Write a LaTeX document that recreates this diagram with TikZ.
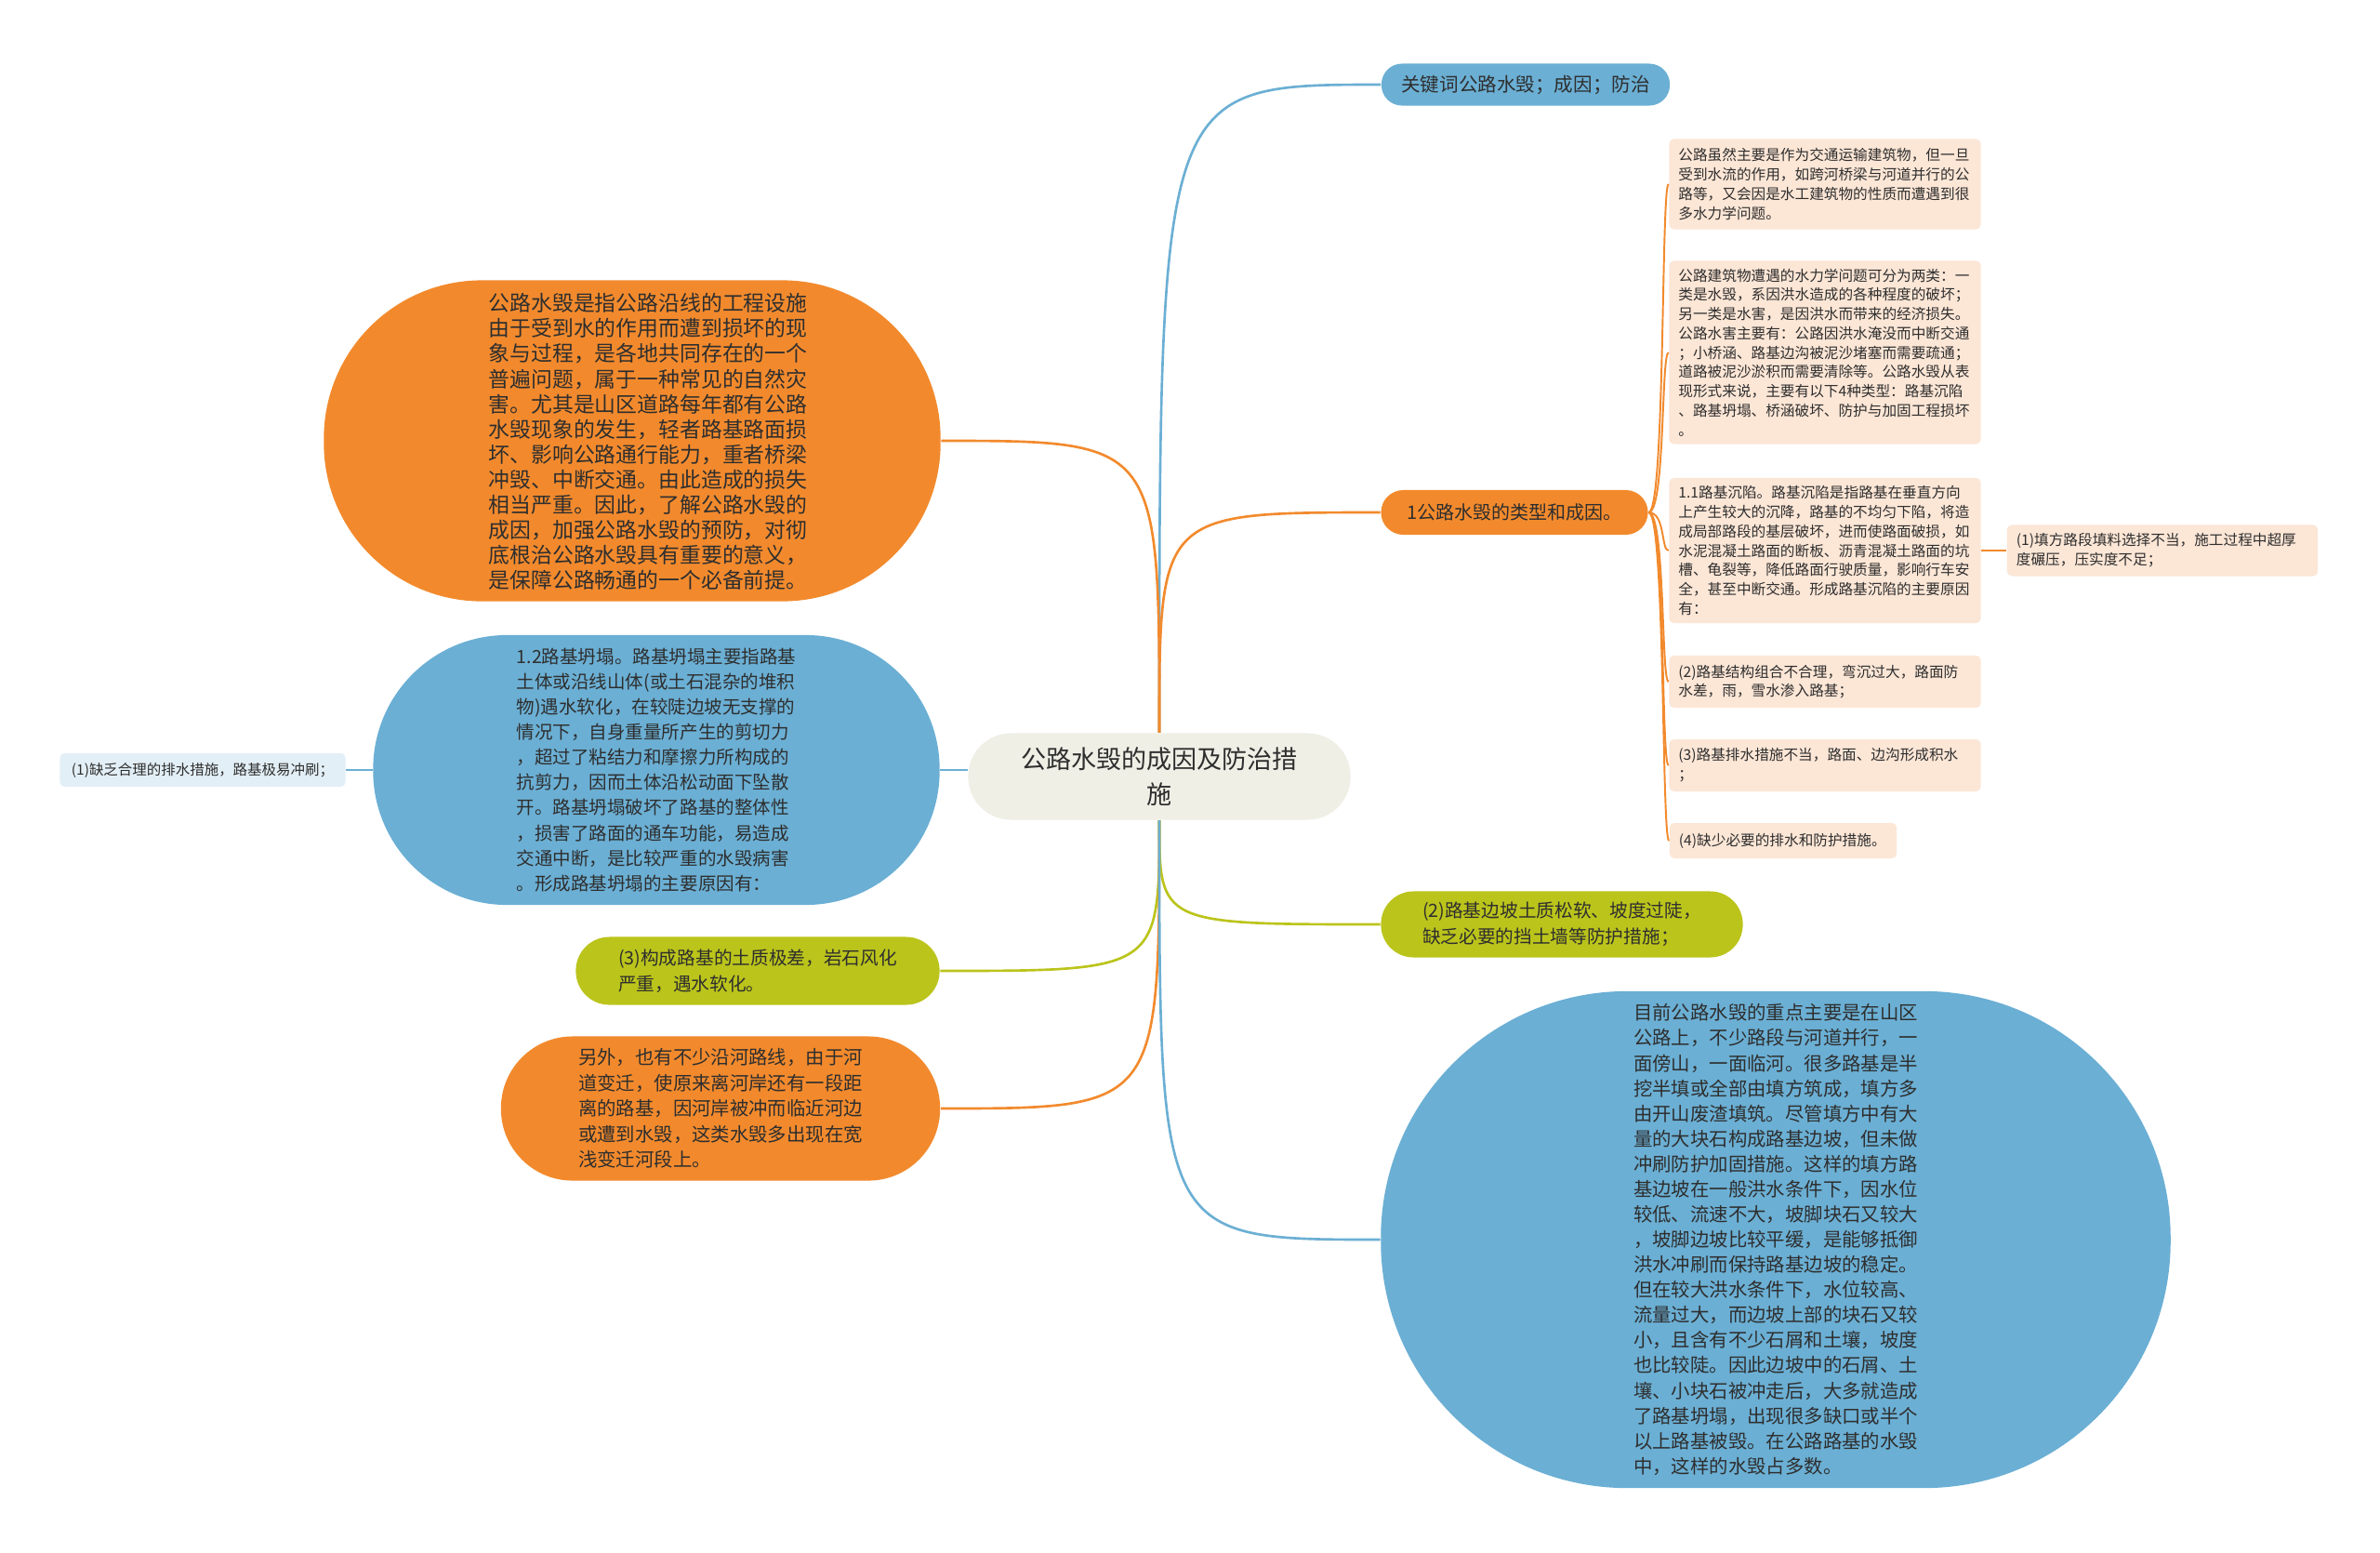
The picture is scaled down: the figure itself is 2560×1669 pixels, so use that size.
\documentclass[tikz,border=0pt]{standalone}
\usepackage{fontspec}
\setmainfont{Noto Sans CJK SC}
\usepackage{xcolor}
\definecolor{mmorange}{HTML}{F28A2D}
\definecolor{mmblue}{HTML}{6BAFD4}
\definecolor{mmgreen}{HTML}{BBC41B}
\definecolor{mmcentre}{HTML}{EFEFE6}
\definecolor{mmpeach}{HTML}{FCE6D6}
\definecolor{mmpale}{HTML}{E3EFF6}
\definecolor{mmtext}{HTML}{2E2E2E}

\tikzset{
  bubble/.style={rectangle, inner sep=0pt, align=left, text=mmtext},
  note/.style={rectangle, rounded corners=0.05cm, fill=mmpeach, inner xsep=0.1cm, inner ysep=0pt,
    align=left, text width=3.15cm, text=mmtext, font=\fontsize{4.45pt}{5.9pt}\selectfont},
  link/.style={line width=0.75pt},
  notelink/.style={draw=mmorange, line width=0.55pt}
}

\begin{document}
\begin{tikzpicture}[x=0.01cm, y=-0.01cm]
  \fill[white] (0,0) rectangle (2560,1669);
  \useasboundingbox (0,0) rectangle (2560,1669);

  % centre
  \node[bubble, fill=mmcentre, minimum width=4.11cm, minimum height=0.93cm, rounded corners=0.46cm,
    align=center, font=\fontsize{7.7pt}{10.7pt}\selectfont] (root) at (1247,835) {公路水毁的成因及防治措\\施};

  % right side
  \node[bubble, fill=mmblue, minimum width=3.10cm, minimum height=0.45cm, rounded corners=0.22cm,
    font=\fontsize{5.85pt}{7pt}\selectfont] (keys) at (1641,91) {关键词公路水毁；成因；防治};
  \node[bubble, fill=mmorange, minimum width=2.87cm, minimum height=0.48cm, rounded corners=0.24cm,
    font=\fontsize{5.7pt}{7pt}\selectfont] (kinds) at (1629,551) {1公路水毁的类型和成因。};

  \node[note, minimum height=0.97cm] (why) at (1963,198) {公路虽然主要是作为交通运输建筑物，但一旦\\受到水流的作用，如跨河桥梁与河道并行的公\\路等，又会因是水工建筑物的性质而遭遇到很\\多水力学问题。};
  \node[note, minimum height=1.97cm] (classes) at (1963,379) {公路建筑物遭遇的水力学问题可分为两类：一\\类是水毁，系因洪水造成的各种程度的破坏；\\另一类是水害，是因洪水而带来的经济损失。\\公路水害主要有：公路因洪水淹没而中断交通\\；小桥涵、路基边沟被泥沙堵塞而需要疏通；\\道路被泥沙淤积而需要清除等。公路水毁从表\\现形式来说，主要有以下4种类型：路基沉陷\\、路基坍塌、桥涵破坏、防护与加固工程损坏\\。};
  \node[note, minimum height=1.56cm] (sink) at (1963,592) {1.1路基沉陷。路基沉陷是指路基在垂直方向\\上产生较大的沉降，路基的不均匀下陷，将造\\成局部路段的基层破坏，进而使路面破损，如\\水泥混凝土路面的断板、沥青混凝土路面的坑\\槽、龟裂等，降低路面行驶质量，影响行车安\\全，甚至中断交通。形成路基沉陷的主要原因\\有：};
  \node[note, text width=3.14cm, minimum height=0.55cm] (sinkA) at (2326,592) {(1)填方路段填料选择不当，施工过程中超厚\\度碾压，压实度不足；};
  \node[note, minimum height=0.56cm] (sinkB) at (1963,733) {(2)路基结构组合不合理，弯沉过大，路面防\\水差，雨，雪水渗入路基；};
  \node[note, minimum height=0.56cm] (sinkC) at (1963,823) {(3)路基排水措施不当，路面、边沟形成积水\\；};
  \node[note, text width=2.24cm, minimum height=0.38cm] (sinkD) at (1918,904) {(4)缺少必要的排水和防护措施。};

  \node[bubble, fill=mmgreen, minimum width=3.89cm, minimum height=0.71cm, rounded corners=0.35cm,
    font=\fontsize{5.6pt}{8pt}\selectfont] (slope) at (1680,994) {(2)路基边坡土质松软、坡度过陡，\\缺乏必要的挡土墙等防护措施；};
  \node[bubble, fill=mmblue, minimum width=8.49cm, minimum height=5.34cm, rounded corners=2.65cm,
    font=\fontsize{5.8pt}{7.7pt}\selectfont] (mountain) at (1910,1333) {目前公路水毁的重点主要是在山区\\公路上，不少路段与河道并行，一\\面傍山，一面临河。很多路基是半\\挖半填或全部由填方筑成，填方多\\由开山废渣填筑。尽管填方中有大\\量的大块石构成路基边坡，但未做\\冲刷防护加固措施。这样的填方路\\基边坡在一般洪水条件下，因水位\\较低、流速不大，坡脚块石又较大\\，坡脚边坡比较平缓，是能够抵御\\洪水冲刷而保持路基边坡的稳定。\\但在较大洪水条件下，水位较高、\\流量过大，而边坡上部的块石又较\\小，且含有不少石屑和土壤，坡度\\也比较陡。因此边坡中的石屑、土\\壤、小块石被冲走后，大多就造成\\了路基坍塌，出现很多缺口或半个\\以上路基被毁。在公路路基的水毁\\中，这样的水毁占多数。};

  % left side
  \node[bubble, fill=mmorange, minimum width=6.63cm, minimum height=3.45cm, rounded corners=1.7cm] (define) at (680,474) {};
  \node[bubble, font=\fontsize{6.5pt}{7.7pt}\selectfont] (definetext) at (697,475) {公路水毁是指公路沿线的工程设施\\由于受到水的作用而遭到损坏的现\\象与过程，是各地共同存在的一个\\普遍问题，属于一种常见的自然灾\\害。尤其是山区道路每年都有公路\\水毁现象的发生，轻者路基路面损\\坏、影响公路通行能力，重者桥梁\\冲毁、中断交通。由此造成的损失\\相当严重。因此，了解公路水毁的\\成因，加强公路水毁的预防，对彻\\底根治公路水毁具有重要的意义，\\是保障公路畅通的一个必备前提。};
  \node[bubble, fill=mmblue, minimum width=6.09cm, minimum height=2.90cm, rounded corners=1.44cm,
    font=\fontsize{5.55pt}{7.7pt}\selectfont] (slump) at (706,828) {1.2路基坍塌。路基坍塌主要指路基\\土体或沿线山体(或土石混杂的堆积\\物)遇水软化，在较陡边坡无支撑的\\情况下，自身重量所产生的剪切力\\，超过了粘结力和摩擦力所构成的\\抗剪力，因而土体沿松动面下坠散\\开。路基坍塌破坏了路基的整体性\\，损害了路面的通车功能，易造成\\交通中断，是比较严重的水毁病害\\。形成路基坍塌的主要原因有：};
  \node[bubble, fill=mmpale, minimum width=3.07cm, minimum height=0.36cm, rounded corners=0.05cm,
    font=\fontsize{4.4pt}{5.5pt}\selectfont] (drain) at (218,828) {(1)缺乏合理的排水措施，路基极易冲刷；};
  \node[bubble, fill=mmgreen, minimum width=3.91cm, minimum height=0.73cm, rounded corners=0.36cm,
    font=\fontsize{5.6pt}{8pt}\selectfont] (soil) at (815,1044) {(3)构成路基的土质极差，岩石风化\\严重，遇水软化。};
  \node[bubble, fill=mmorange, minimum width=4.72cm, minimum height=1.55cm, rounded corners=0.77cm,
    font=\fontsize{5.8pt}{7.8pt}\selectfont] (river) at (775,1192) {另外，也有不少沿河路线，由于河\\道变迁，使原来离河岸还有一段距\\离的路基，因河岸被冲而临近河边\\或遭到水毁，这类水毁多出现在宽\\浅变迁河段上。};

  % connectors
  \draw[link, mmblue] (root.north) .. controls (root.north |- keys.west) .. (keys.west);
  \draw[link, mmorange] (root.north) .. controls (root.north |- kinds.west) .. (kinds.west);
  \draw[link, mmorange] (root.north) .. controls (root.north |- define.east) .. (define.east);
  \draw[link, mmblue] (slump.east) -- (slump.east -| root.west);
  \draw[link, mmblue] (drain.east) -- (slump.west);
  \draw[link, mmgreen] (root.south) .. controls (root.south |- soil.east) .. (soil.east);
  \draw[link, mmorange] (root.south) .. controls (root.south |- river.east) .. (river.east);
  \draw[link, mmgreen] (root.south) .. controls (root.south |- slope.west) .. (slope.west);
  \draw[link, mmblue] (root.south) .. controls (root.south |- mountain.west) .. (mountain.west);

  \foreach \n in {why,classes,sink,sinkB,sinkC,sinkD}
    \draw[notelink] (kinds.east) .. controls +(18,0) and +(-8,0) .. (\n.west);
  \draw[notelink] (sink.east) -- (sinkA.west);
\end{tikzpicture}
\end{document}
